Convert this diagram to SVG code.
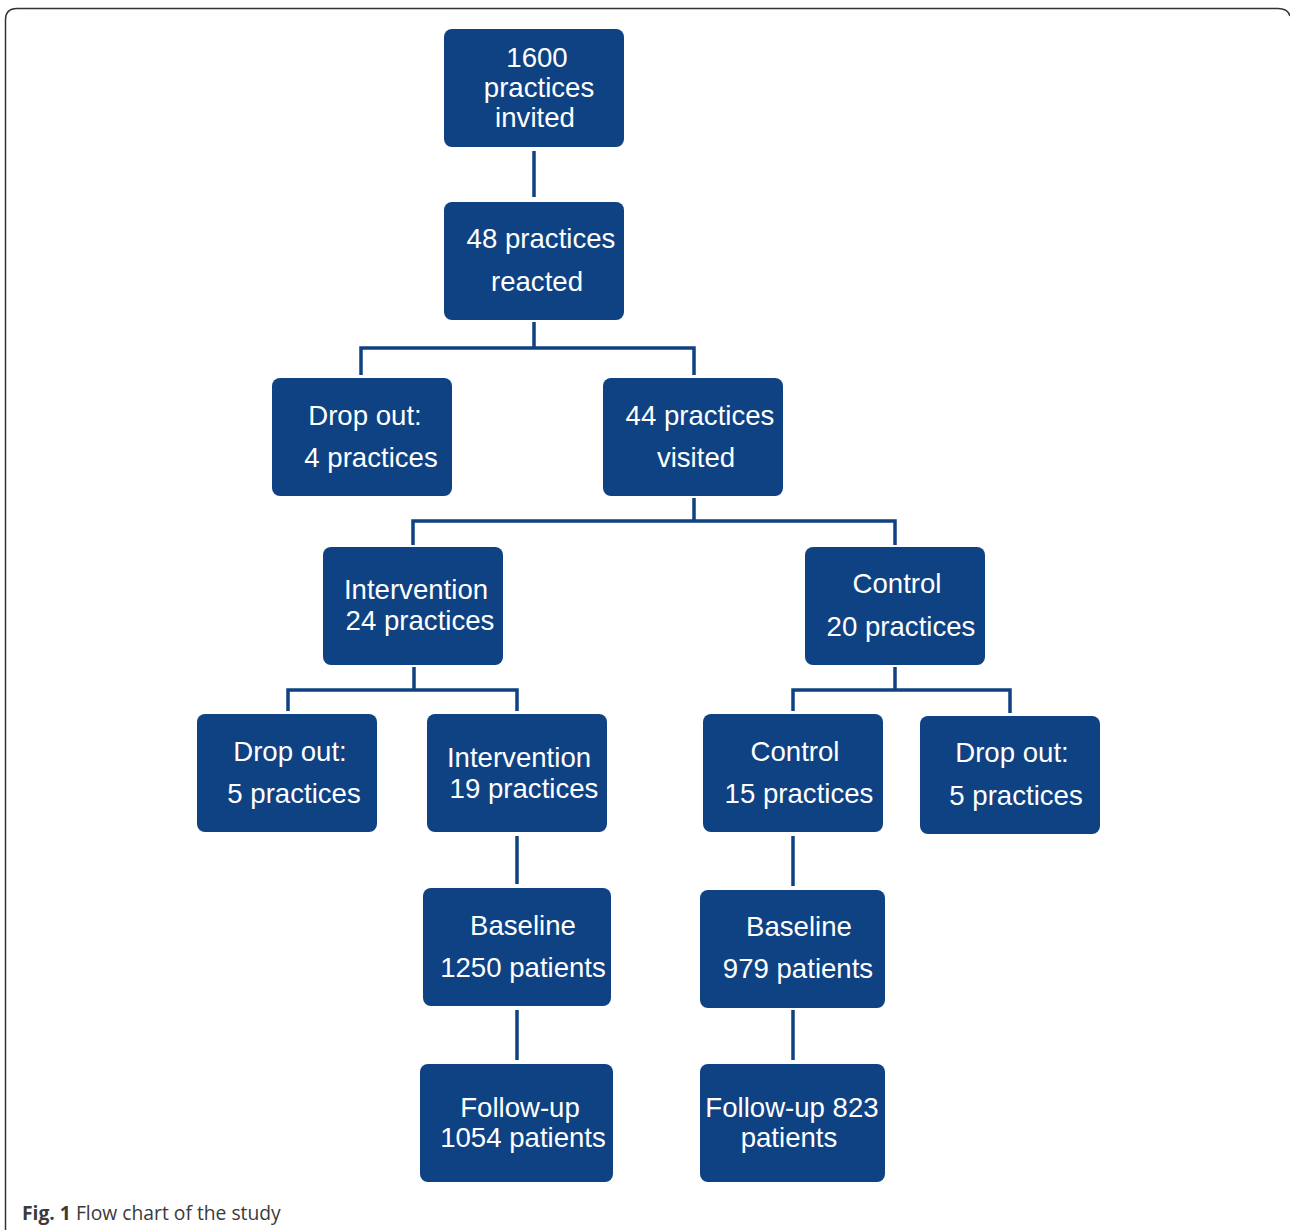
<svg xmlns="http://www.w3.org/2000/svg" width="1290" height="1230" viewBox="0 0 1290 1230">
<style>
.box{fill:#0f4283}
.t{fill:#ffffff;font-family:"Liberation Sans",Arial,sans-serif;font-size:27.6px;text-anchor:middle}
.c{fill:none;stroke:#0f4283;stroke-width:3.5}
.cap{font-family:"Open Sans","Noto Sans",sans-serif;font-size:19.3px;fill:#3a3a3a}
</style>
<rect width="1290" height="1230" fill="#ffffff"/>
<path d="M5.5,1232 V20 Q5.5,8.5 17,8.5 H1278 Q1288,8.5 1290,16" fill="none" stroke="#333333" stroke-width="1.5"/>
<g id="connectors">
<path class="c" d="M534,151 V197"/>
<path class="c" d="M534,322 V348 M361,375 V348 H694 V375"/>
<path class="c" d="M694,498 V521 M413,545 V521 H895 V545"/>
<path class="c" d="M414,667 V690 M288,711 V690 H517 V711"/>
<path class="c" d="M895,667 V690 M793,711 V690 H1010 V713"/>
<path class="c" d="M517,836 V884"/>
<path class="c" d="M793,836 V886"/>
<path class="c" d="M517,1010 V1060"/>
<path class="c" d="M793,1010 V1060"/>
</g>
<g id="n1"><rect class="box" x="444" y="29" width="180" height="118" rx="8"/><text class="t" x="537" y="67">1600</text><text class="t" x="539" y="97">practices</text><text class="t" x="535" y="127">invited</text></g>
<g id="n2"><rect class="box" x="444" y="202" width="180" height="118" rx="8"/><text class="t" x="541" y="248">48 practices</text><text class="t" x="537" y="291">reacted</text></g>
<g id="n3"><rect class="box" x="272" y="378" width="180" height="118" rx="8"/><text class="t" x="365" y="425">Drop out:</text><text class="t" x="371" y="467">4 practices</text></g>
<g id="n4"><rect class="box" x="603" y="378" width="180" height="118" rx="8"/><text class="t" x="700" y="425">44 practices</text><text class="t" x="696" y="467">visited</text></g>
<g id="n5"><rect class="box" x="323" y="547" width="180" height="118" rx="8"/><text class="t" x="416" y="599">Intervention</text><text class="t" x="420" y="630">24 practices</text></g>
<g id="n6"><rect class="box" x="805" y="547" width="180" height="118" rx="8"/><text class="t" x="897" y="593">Control</text><text class="t" x="901" y="636">20 practices</text></g>
<g id="n7"><rect class="box" x="197" y="714" width="180" height="118" rx="8"/><text class="t" x="290" y="761">Drop out:</text><text class="t" x="294" y="803">5 practices</text></g>
<g id="n8"><rect class="box" x="427" y="714" width="180" height="118" rx="8"/><text class="t" x="519" y="767">Intervention</text><text class="t" x="524" y="798">19 practices</text></g>
<g id="n9"><rect class="box" x="703" y="714" width="180" height="118" rx="8"/><text class="t" x="795" y="761">Control</text><text class="t" x="799" y="803">15 practices</text></g>
<g id="n10"><rect class="box" x="920" y="716" width="180" height="118" rx="8"/><text class="t" x="1012" y="762">Drop out:</text><text class="t" x="1016" y="805">5 practices</text></g>
<g id="n11"><rect class="box" x="423" y="888" width="188" height="118" rx="8"/><text class="t" x="523" y="935">Baseline</text><text class="t" x="523" y="977">1250 patients</text></g>
<g id="n12"><rect class="box" x="700" y="890" width="185" height="118" rx="8"/><text class="t" x="799" y="936">Baseline</text><text class="t" x="798" y="978">979 patients</text></g>
<g id="n13"><rect class="box" x="420" y="1064" width="193" height="118" rx="8"/><text class="t" x="520" y="1117">Follow-up</text><text class="t" x="523" y="1147">1054 patients</text></g>
<g id="n14"><rect class="box" x="700" y="1064" width="185" height="118" rx="8"/><text class="t" x="792" y="1117">Follow-up 823</text><text class="t" x="789" y="1147">patients</text></g>
<text class="cap" x="22" y="1220"><tspan font-weight="bold">Fig. 1</tspan> Flow chart of the study</text>
</svg>
